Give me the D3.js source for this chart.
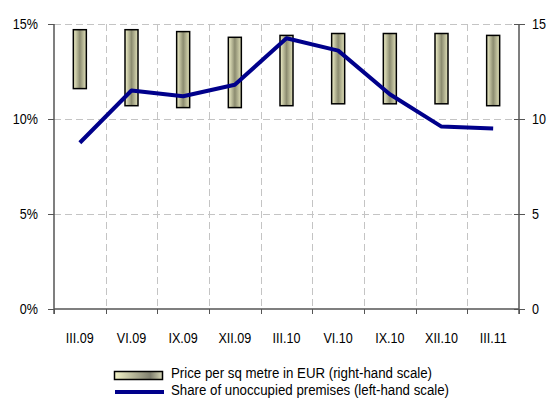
<!DOCTYPE html>
<html>
<head>
<meta charset="utf-8">
<script src="https://cdn.jsdelivr.net/npm/d3@7"></script>
<style>
  html, body { margin: 0; padding: 0; background: #fff; }
  svg { display: block; }
  text { font-family: "Liberation Sans", Arial, sans-serif; fill: #000; }
</style>
</head>
<body>
<svg id="chart" width="549" height="400"></svg>
<script>
// Quarterly categories
const quarters = ["III.09", "VI.09", "IX.09", "XII.09", "III.10", "VI.10", "IX.10", "XII.10", "III.11"];
// Price per sq metre in EUR: low and high of the range (right-hand scale)
const priceLow  = [11.6, 10.7, 10.6, 10.6, 10.7, 10.8, 10.8, 10.8, 10.7];
const priceHigh = [14.7, 14.7, 14.6, 14.3, 14.4, 14.5, 14.5, 14.5, 14.4];
// Share of unoccupied premises, % (left-hand scale)
const vacancy = [8.75, 11.5, 11.2, 11.8, 14.25, 13.6, 11.3, 9.6, 9.5];
// Axis ticks
const leftTicks = [0, 5, 10, 15];
const rightTicks = [0, 5, 10, 15];

const svg = d3.select("#chart");
const m = { left: 54, right: 30, top: 24, bottom: 91 };
const W = 549, H = 400;
const x0 = m.left, x1 = W - m.right;
const yTop = m.top, yBot = H - m.bottom;

const x = d3.scaleBand().domain(quarters).range([x0, x1]).padding(0);
const yL = d3.scaleLinear().domain([0, 15]).range([yBot, yTop]);
const yR = d3.scaleLinear().domain([0, 15]).range([yBot, yTop]);

// Narrow lettering: squeeze text horizontally about its anchor
const squeeze = 0.84;
function condense(sel, k) {
  sel.each(function () {
    const t = d3.select(this);
    const xv = +(t.attr("x") || 0);
    t.attr("x", xv / k).attr("transform", `scale(${k},1)`);
  });
}

// Gradient for the price bars
const defs = svg.append("defs");
const grad = defs.append("linearGradient").attr("id", "barGrad")
  .attr("x1", "0%").attr("x2", "100%").attr("y1", "0%").attr("y2", "0%");
grad.append("stop").attr("offset", "0%").attr("stop-color", "#f2f2ca");
grad.append("stop").attr("offset", "50%").attr("stop-color", "#8c8c70");
grad.append("stop").attr("offset", "100%").attr("stop-color", "#e2e2ba");
const gradL = defs.append("linearGradient").attr("id", "legGrad")
  .attr("x1", "0%").attr("x2", "100%").attr("y1", "0%").attr("y2", "0%");
gradL.append("stop").attr("offset", "0%").attr("stop-color", "#f4f4c8");
gradL.append("stop").attr("offset", "75%").attr("stop-color", "#7e7e6e");
gradL.append("stop").attr("offset", "100%").attr("stop-color", "#d8d8b8");

// Gridlines
const grid = svg.append("g").attr("stroke", "#c4c4c4").attr("stroke-width", 1).attr("stroke-dasharray", "7,4");
grid.selectAll("line.h").data(leftTicks.filter(d => d > 0)).join("line")
  .attr("x1", x0).attr("x2", x1)
  .attr("y1", d => Math.round(yL(d)) + 0.5).attr("y2", d => Math.round(yL(d)) + 0.5);
grid.selectAll("line.v").data(quarters.slice(1)).join("line")
  .attr("x1", d => Math.round(x(d)) + 0.5).attr("x2", d => Math.round(x(d)) + 0.5)
  .attr("y1", yTop).attr("y2", yBot);

// Price range bars
const bw = 13;
svg.append("g").selectAll("rect").data(quarters).join("rect")
  .attr("x", d => x(d) + x.bandwidth() / 2 - bw / 2)
  .attr("y", (d, i) => yR(priceHigh[i]))
  .attr("width", bw)
  .attr("height", (d, i) => yR(priceLow[i]) - yR(priceHigh[i]))
  .attr("fill", "url(#barGrad)")
  .attr("stroke", "#000").attr("stroke-width", 1.5);

// Vacancy line
const line = d3.line()
  .x((d, i) => x(quarters[i]) + x.bandwidth() / 2)
  .y(d => yL(d));
svg.append("path").datum(vacancy)
  .attr("d", line)
  .attr("fill", "none").attr("stroke", "#00008b").attr("stroke-width", 4)
  .attr("stroke-linejoin", "round");

// Axes
const axisColor = "#555";
const gl = svg.append("g").attr("transform", `translate(${x0},0)`)
  .call(d3.axisLeft(yL).tickValues(leftTicks).tickFormat(d => d + "%").tickSize(6).tickPadding(10));
const gr = svg.append("g").attr("transform", `translate(${x1},0)`)
  .call(d3.axisRight(yR).tickValues(rightTicks).tickFormat(d3.format("d")).tickSize(6).tickPadding(7));
gr.selectAll(".tick line").attr("x1", -5);
const gb = svg.append("g").attr("transform", `translate(0,${yBot})`)
  .call(d3.axisBottom(x).tickSize(0).tickPadding(23));
// Category boundary ticks on the bottom axis
svg.append("g").attr("stroke", axisColor).selectAll("line")
  .data(d3.range(quarters.length + 1)).join("line")
  .attr("x1", i => Math.round(x0 + i * x.step()) + 0.5)
  .attr("x2", i => Math.round(x0 + i * x.step()) + 0.5)
  .attr("y1", yBot).attr("y2", yBot + 5);

[gl, gr, gb].forEach(g => {
  g.select(".domain").attr("stroke", axisColor).attr("stroke-width", 1.5);
  g.selectAll(".tick line").attr("stroke", axisColor);
  g.selectAll("text").attr("font-size", 15)
    .attr("font-family", "'Liberation Sans', Arial, sans-serif")
    .call(condense, squeeze);
});
gl.select(".domain").attr("d", `M0,${yTop}V${yBot + 5}`);
gr.select(".domain").attr("d", `M0,${yTop}V${yBot + 5}`);
gb.select(".domain").attr("d", `M${x0},0H${x1}`);

// Legend
const lg = svg.append("g");
lg.append("rect").attr("x", 114.5).attr("y", 371.5).attr("width", 48).attr("height", 8)
  .attr("fill", "url(#legGrad)").attr("stroke", "#000").attr("stroke-width", 1.5);
lg.append("line").attr("x1", 115).attr("x2", 164).attr("y1", 392).attr("y2", 392)
  .attr("stroke", "#00008b").attr("stroke-width", 4);
lg.append("text").attr("x", 171).attr("y", 378.5).attr("font-size", 15)
  .text("Price per sq metre in EUR (right-hand scale)").call(condense, 0.885);
lg.append("text").attr("x", 171).attr("y", 395).attr("font-size", 15)
  .text("Share of unoccupied premises (left-hand scale)").call(condense, 0.885);
</script>
</body>
</html>
